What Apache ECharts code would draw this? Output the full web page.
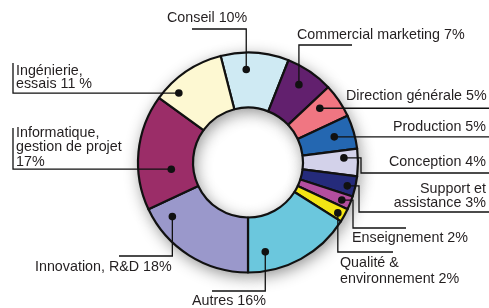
<!DOCTYPE html>
<html><head><meta charset="utf-8">
<script src="https://cdn.jsdelivr.net/npm/echarts@6/dist/echarts.min.js"></script>
<style>html,body{margin:0;padding:0;background:#fff}#c{width:489px;height:308px}</style>
</head><body><div id="c"></div>
<script>
// ---- data ----
const categories = ['Conseil', 'Commercial marketing', 'Direction générale', 'Production', 'Conception',
  'Support et assistance', 'Enseignement', 'Qualité & environnement', 'Autres', 'Innovation, R&D',
  'Informatique, gestion de projet', 'Ingénierie, essais'];
const values = [10, 7, 5, 5, 4, 3, 2, 2, 16, 18, 17, 11];
const labelTexts = ['Conseil 10%', 'Commercial marketing 7%', 'Direction générale 5%', 'Production 5%',
  'Conception 4%', 'Support et\nassistance 3%', 'Enseignement 2%', 'Qualité &\nenvironnement 2%',
  'Autres 16%', 'Innovation, R&D 18%', 'Informatique,\ngestion de projet\n17%', 'Ingénierie,\nessais 11 %'];

// ---- styles / layout ----
const colors = ['#cfeaf3', '#62206e', '#f07682', '#2467b1', '#d3d2ea', '#252b7b',
  '#b34e9f', '#f3e514', '#6bc7dd', '#9a98cb', '#9b2d68', '#fdf8d2'];
// dot: [fraction along slice angle, radius px]; route: leader-line moves from the dot
const annot = [
  {dot: [0.37, 93], route: [['v', 29], ['h', 192]], x: 167, y: 18, align: 'left'},
  {dot: [0.46, 93], route: [['v', 45], ['h', 352]], x: 297, y: 35, align: 'left'},
  {dot: [0.34, 90], route: [['h', 489]], x: 346, y: 96, align: 'left'},
  {dot: [0.48, 90], route: [['h', 489]], x: 486, y: 127, align: 'right'},
  {dot: [0.31, 96], route: [['h', 361], ['v', 173], ['h', 489]], x: 486, y: 162, align: 'right'},
  {dot: [0.56, 102], route: [['h', 359], ['v', 212], ['h', 489]], x: 486, y: 196, align: 'right', lh: 14.5},
  {dot: [0.53, 101], route: [['h', 353], ['v', 228], ['h', 406]], x: 352, y: 238, align: 'left'},
  {dot: [0.57, 103], route: [['v', 252], ['h', 393]], x: 340, y: 271, align: 'left', lh: 16},
  {dot: [0.81, 91], route: [['v', 291], ['h', 212]], x: 192, y: 301, align: 'left'},
  {dot: [0.84, 93], route: [['v', 256], ['h', 119]], x: 35, y: 267, align: 'left'},
  {dot: [0.33, 77], route: [['h', 13], ['v', 128]], x: 16, y: 147.5, align: 'left', lh: 14.5},
  {dot: [0.23, 98], route: [['h', 13], ['v', 63]], x: 16, y: 77.5, align: 'left', lh: 13.5}
];
const CENTER = [248, 162.5], RADIUS = [55, 110], START = 104.4;

const chart = echarts.init(document.getElementById('c'));
const pieData = categories.map((n, i) => ({name: n, value: values[i], itemStyle: {color: colors[i]}}));
chart.setOption({
  animation: false,
  backgroundColor: '#fff',
  series: [
    { // soft shadow behind the ring
      type: 'pie', silent: true, z: 1, center: CENTER, radius: RADIUS, startAngle: START,
      label: {show: false}, labelLine: {show: false},
      itemStyle: {color: '#ccc', shadowBlur: 16, shadowColor: 'rgba(0,0,0,0.45)', shadowOffsetX: 2, shadowOffsetY: 4},
      data: categories.map((n, i) => ({name: n, value: values[i]}))
    },
    {
      type: 'pie', z: 2, center: CENTER, radius: RADIUS, startAngle: START,
      label: {show: false}, labelLine: {show: false},
      itemStyle: {borderColor: '#111', borderWidth: 2.2},
      emphasis: {disabled: true},
      data: pieData
    }
  ]
});

// annotations anchored on the library's slice layout
const sData = chart.getModel().getSeriesByIndex(1).getData();
const elements = [];
const FONT = '14.3px "Liberation Sans", Arial, sans-serif';
annot.forEach((a, i) => {
  const L = sData.getItemLayout(i);
  const ang = L.startAngle + a.dot[0] * (L.endAngle - L.startAngle);
  const px = L.cx + a.dot[1] * Math.cos(ang), py = L.cy + a.dot[1] * Math.sin(ang);
  const pts = [[px, py]];
  let cx = px, cy = py;
  a.route.forEach(([k, v]) => { if (k === 'h') cx = v; else cy = v; pts.push([cx, cy]); });
  elements.push({type: 'polyline', z: 10, silent: true, shape: {points: pts},
    style: {stroke: '#111', lineWidth: 1.3, fill: null}});
  elements.push({type: 'circle', z: 11, silent: true, shape: {cx: px, cy: py, r: 3.8}, style: {fill: '#111'}});
  elements.push({type: 'text', z: 12, silent: true, x: a.x, y: a.y,
    style: {text: labelTexts[i], font: FONT, fill: '#231f20', align: a.align, textAlign: a.align,
      verticalAlign: 'middle', textVerticalAlign: 'middle', lineHeight: a.lh || 14.5}});
});
chart.setOption({graphic: {elements}});
</script></body></html>
